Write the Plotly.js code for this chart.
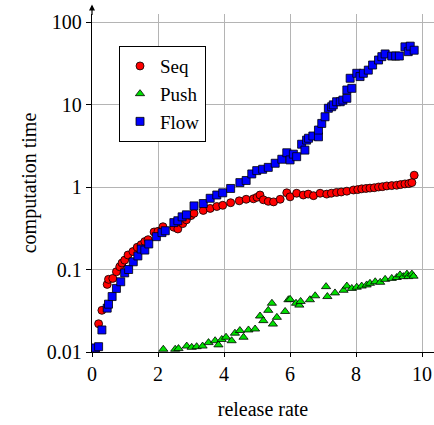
<!DOCTYPE html>
<html><head><meta charset="utf-8">
<script src="https://cdn.plot.ly/plotly-3.0.1.min.js"></script>
<style>html,body{margin:0;padding:0;background:#fff}#c{width:434px;height:425px}</style>
</head><body><div id="c"></div>
<script>
const seqX = [0.1,0.2,0.3,0.46,0.5,0.63,0.74,0.84,0.91,0.99,1.09,1.24,1.37,1.49,1.6,1.7,1.88,2.0,2.15,2.48,2.6,2.75,2.86,3.0,3.09,3.37,3.58,3.78,3.96,4.2,4.46,4.67,4.89,5.0,5.09,5.19,5.34,5.5,5.7,5.9,6.0,6.2,6.4,6.55,6.71,6.91,7.11,7.25,7.41,7.55,7.72,7.92,8.05,8.17,8.3,8.42,8.55,8.68,8.8,8.93,9.08,9.23,9.35,9.48,9.6,9.69,9.76];
const seqY = [0.01,0.022,0.032,0.066,0.076,0.078,0.094,0.108,0.12,0.13,0.15,0.165,0.186,0.2,0.218,0.23,0.285,0.29,0.33,0.325,0.31,0.36,0.40,0.45,0.48,0.52,0.55,0.58,0.60,0.645,0.68,0.71,0.72,0.75,0.80,0.70,0.67,0.66,0.71,0.85,0.76,0.84,0.80,0.82,0.785,0.84,0.82,0.84,0.86,0.87,0.89,0.92,0.93,0.95,0.96,0.97,0.98,1.0,1.01,1.03,1.04,1.05,1.07,1.09,1.1,1.13,1.39];

const pushX = [2.16,2.52,2.62,2.87,3.02,3.17,3.35,3.53,3.73,3.83,3.93,4.06,4.23,4.33,4.48,4.59,4.74,4.94,5.09,5.19,5.34,5.45,5.48,5.6,5.85,5.95,6.0,6.18,6.28,6.32,6.6,6.76,7.09,7.13,7.36,7.62,7.72,7.87,8.02,8.17,8.32,8.42,8.58,8.73,8.88,9.08,9.23,9.33,9.43,9.54,9.58,9.69,9.74];
const pushY = [0.0108,0.0108,0.011,0.0118,0.0114,0.0116,0.0118,0.013,0.0137,0.0122,0.0142,0.0151,0.0137,0.0169,0.0182,0.0151,0.0185,0.019,0.0273,0.024,0.032,0.039,0.0218,0.0263,0.031,0.043,0.0435,0.039,0.037,0.041,0.043,0.048,0.062,0.047,0.052,0.056,0.063,0.059,0.061,0.063,0.065,0.068,0.071,0.07,0.076,0.078,0.08,0.086,0.082,0.088,0.082,0.088,0.083];

const flowX = [0.1,0.2,0.3,0.46,0.5,0.61,0.74,0.87,0.99,1.11,1.25,1.39,1.49,1.6,1.72,1.95,2.12,2.22,2.48,2.6,2.73,2.86,3.09,3.37,3.58,3.78,3.96,4.2,4.48,4.67,4.84,4.99,5.17,5.34,5.55,5.75,5.9,6.0,6.1,6.2,6.35,6.45,6.5,6.56,6.69,6.86,6.86,6.96,7.06,7.16,7.26,7.31,7.41,7.52,7.6,7.72,7.72,7.82,7.87,8.02,8.12,8.22,8.37,8.5,8.68,8.78,8.88,9.08,9.2,9.31,9.48,9.58,9.64,9.76];
const flowY = [0.0112,0.0116,0.0185,0.034,0.038,0.047,0.059,0.071,0.091,0.1,0.124,0.146,0.177,0.172,0.204,0.25,0.28,0.295,0.37,0.39,0.435,0.46,0.59,0.63,0.73,0.80,0.85,0.96,1.13,1.2,1.44,1.58,1.64,1.73,1.94,2.17,2.6,2.13,2.5,2.33,3.3,2.8,3.7,3.9,4.15,4.06,4.9,5.9,7.1,9.0,9.4,9.9,10.8,10.8,11.3,11.9,15.0,20.8,15.7,23.9,21.8,23.9,26.1,30.1,34.6,38.0,41,38.7,38.7,38.7,50,43.7,51,45.5];

const xTicks = [0,2,4,6,8,10];
const yTicks = [0.01,0.1,1,10,100];
const yTickText = ['0.01','0.1','1','10','100'];

const FONT = 'Liberation Serif';
const mk = (sym, col) => ({symbol: sym, size: 8, color: col, line: {color: '#000', width: 0.8}});

const traces = [
  {x: seqX, y: seqY, name: 'Seq', type: 'scatter', mode: 'markers', marker: mk('circle', '#ff0000'), cliponaxis: true},
  {x: pushX, y: pushY, name: 'Push', type: 'scatter', mode: 'markers', marker: mk('triangle-up', '#00e000'), cliponaxis: true},
  {x: flowX, y: flowY, name: 'Flow', type: 'scatter', mode: 'markers', marker: mk('square', '#0000ff'), cliponaxis: true}
];

const layout = {
  width: 434, height: 425,
  margin: {l: 92, r: 0, t: 14, b: 73},
  paper_bgcolor: '#fff', plot_bgcolor: '#fff',
  font: {family: FONT, size: 20, color: '#000'},
  showlegend: true,
  legend: {x: 0.079, y: 0.905, xanchor: 'left', yanchor: 'top', bordercolor: '#000', borderwidth: 1, bgcolor: '#fff', font: {family: FONT, size: 19, color: '#000'}},
  xaxis: {
    range: [0, 10.36], tickvals: xTicks, ticktext: xTicks.map(String),
    showgrid: true, gridcolor: '#b4b4b4', gridwidth: 1, zeroline: false,
    showline: true, linecolor: '#000', linewidth: 1.2,
    ticks: 'outside', ticklen: 4, tickcolor: '#000',
    tickfont: {family: FONT, size: 20, color: '#000'},
    title: {text: 'release rate', font: {family: FONT, size: 20, color: '#000'}, standoff: 17}
  },
  yaxis: {
    type: 'log', range: [-2, 2.097], tickvals: yTicks, ticktext: yTickText,
    showgrid: true, gridcolor: '#b4b4b4', gridwidth: 1, zeroline: false,
    showline: true, linecolor: '#000', linewidth: 1.2,
    ticks: 'outside', ticklen: 5, tickcolor: '#000',
    tickfont: {family: FONT, size: 20, color: '#000'},
    title: {text: 'computation time', font: {family: FONT, size: 20, color: '#000'}, standoff: 4}
  },
  annotations: [{
    xref: 'paper', yref: 'paper', x: 0, y: 1.028, text: '', showarrow: true,
    axref: 'pixel', ayref: 'pixel', ax: 0, ay: 12, arrowhead: 2, arrowsize: 1, arrowwidth: 1.2, arrowcolor: '#000'
  }]
};

Plotly.newPlot('c', traces, layout, {displayModeBar: false, staticPlot: true});
</script></body></html>
